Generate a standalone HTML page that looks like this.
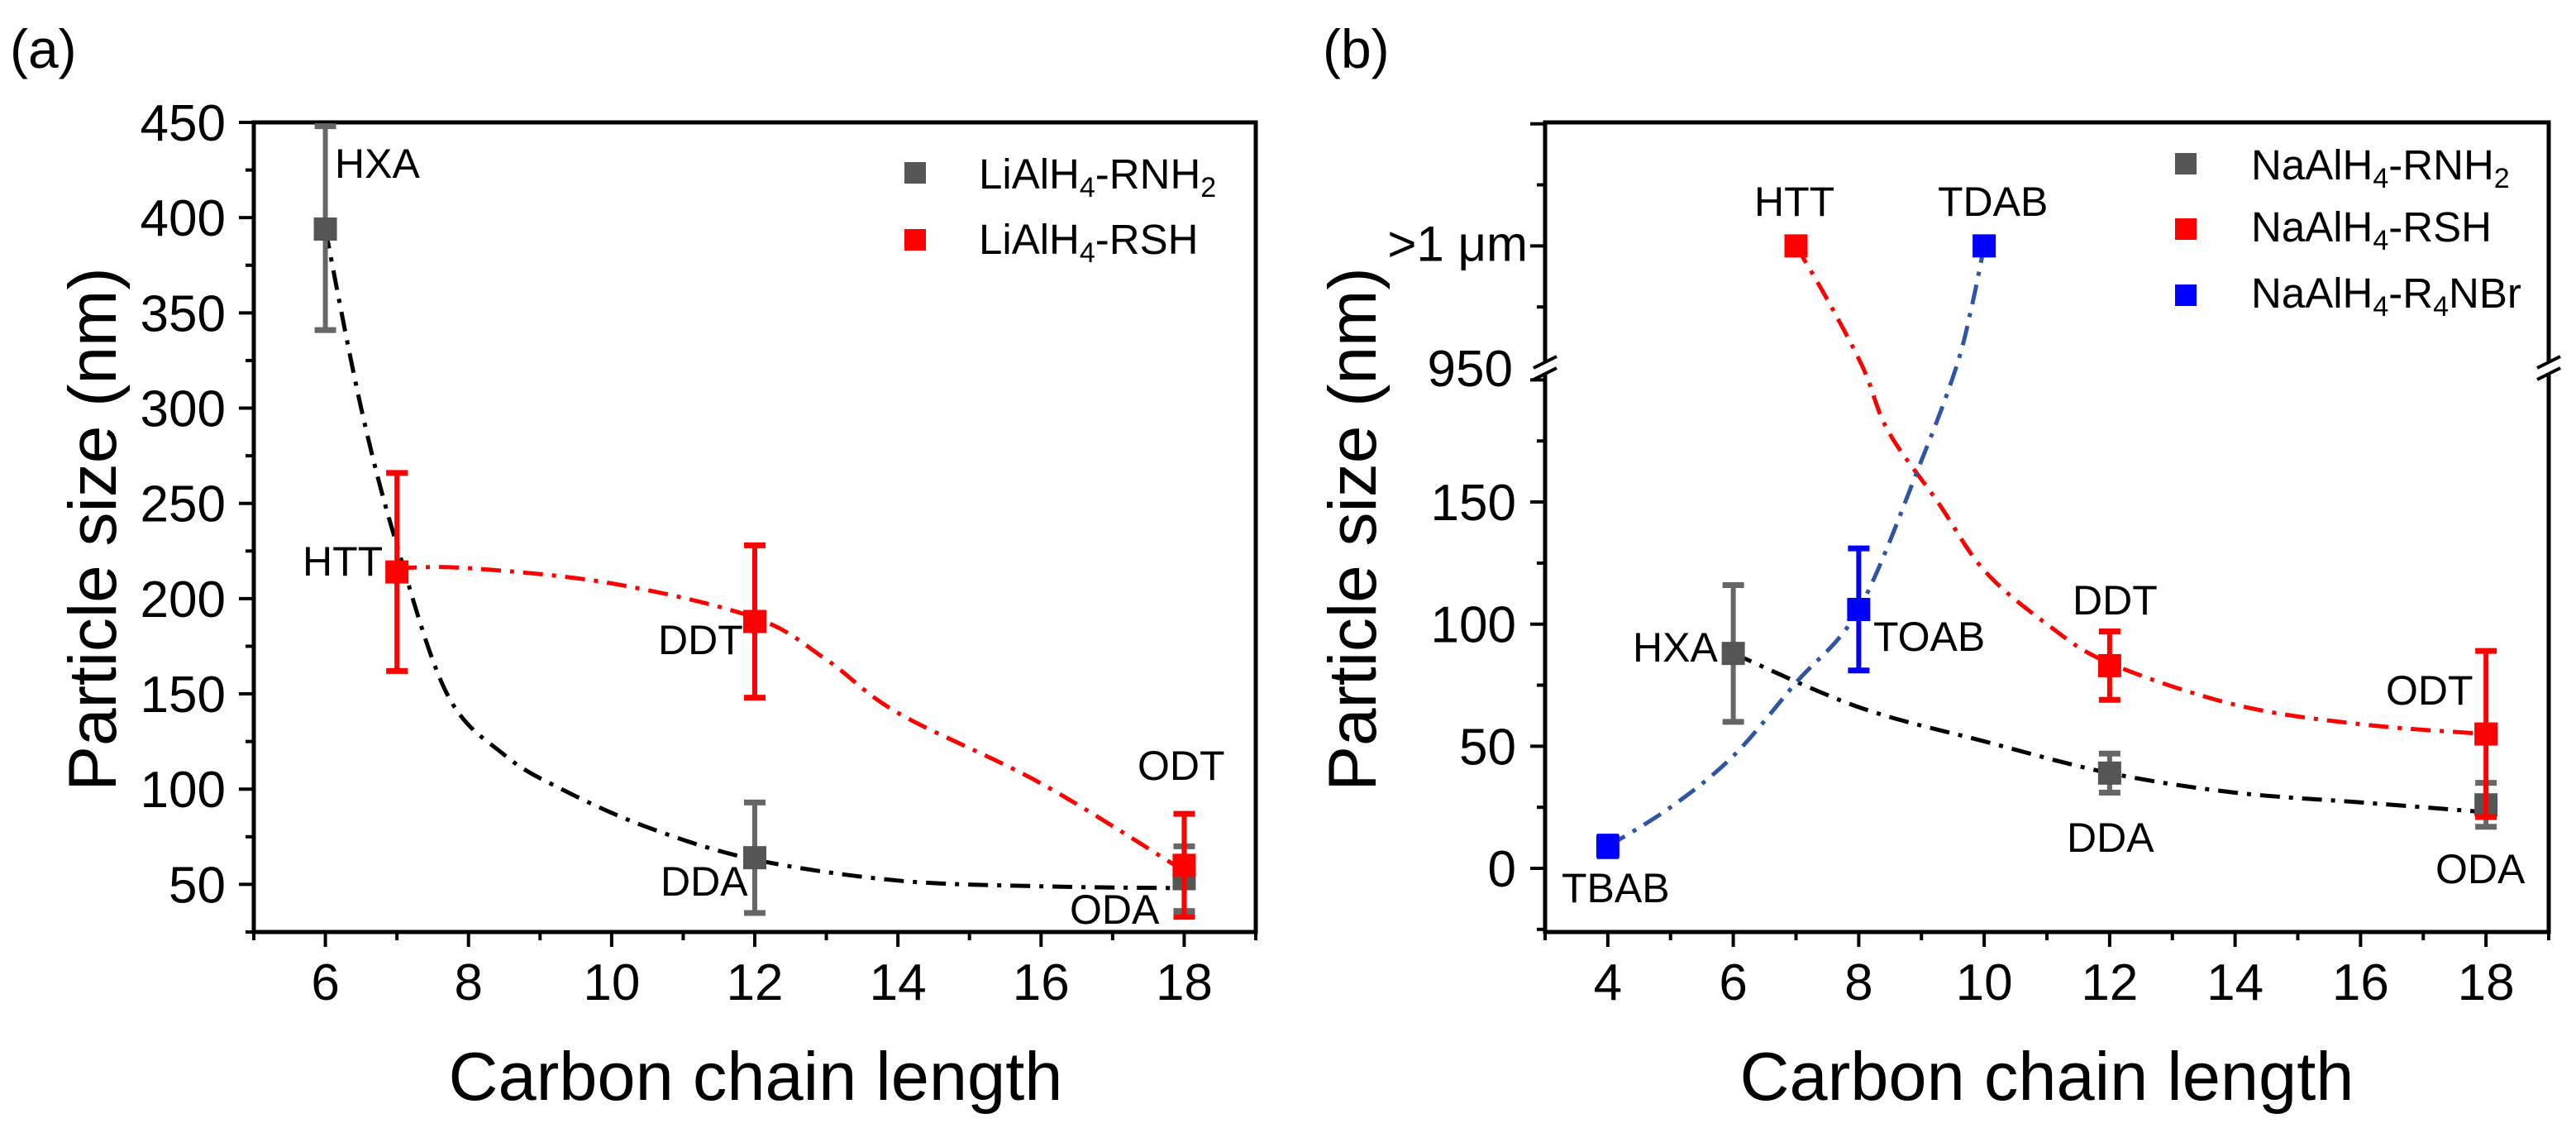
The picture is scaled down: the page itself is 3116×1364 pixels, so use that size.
<!DOCTYPE html>
<html><head><meta charset="utf-8">
<style>
html,body{margin:0;padding:0;background:#fff;}
svg{display:block;font-family:"Liberation Sans",Arial,sans-serif;}
</style></head>
<body>
<svg id="fig" width="3116" height="1364" viewBox="0 0 3116 1364" xmlns="http://www.w3.org/2000/svg">
<rect width="3116" height="1364" fill="#fff"/>
<text x="12" y="82" font-size="66">(a)</text>
<text x="1600" y="82" font-size="66">(b)</text>
<g id="pa"></g>
<g id="pb"></g>
</svg>
<script>
// ---------- Panel (a) data ----------
const aXTicks = [6, 8, 10, 12, 14, 16, 18];
const aYTicks = [50, 100, 150, 200, 250, 300, 350, 400, 450];
const aAmineX = [6, 12, 18];
const aAmineY = [394, 64, 53];
const aAmineLo = [341, 35, 36];
const aAmineHi = [448, 93, 70];
const aAmineNames = ["HXA", "DDA", "ODA"];
const aThiolX = [7, 12, 18];
const aThiolY = [214, 188, 60];
const aThiolLo = [162, 148, 33];
const aThiolHi = [266, 228, 87];
const aThiolNames = ["HTT", "DDT", "ODT"];
const aFitBlackX = [6, 6.5, 7, 7.7, 8.5, 9.3, 10.5, 12, 14, 16, 18];
const aFitBlackY = [394, 300, 228, 150, 118, 100, 80, 63, 52, 49, 48];
const aFitRedX = [7, 8, 10, 12, 13, 14, 16, 18];
const aFitRedY = [216, 216, 208, 190, 168, 140, 103, 57];

// ---------- Panel (b) data ----------
const bXTicks = [4, 6, 8, 10, 12, 14, 16, 18];
const bYTicksLow = [0, 50, 100, 150];
const bAmineX = [6, 12, 18];
const bAmineY = [88, 39, 26];
const bAmineLo = [60, 31, 17];
const bAmineHi = [116, 47, 35];
const bAmineNames = ["HXA", "DDA", "ODA"];
const bThiolX = [7, 12, 18];
const bThiolY = [1000, 83, 55];
const bThiolLo = [1000, 69, 21];
const bThiolHi = [1000, 97, 89];
const bThiolNames = ["HTT", "DDT", "ODT"];
const bAmmX = [4, 8, 10];
const bAmmY = [9, 106, 1000];
const bAmmLo = [5, 81, 1000];
const bAmmHi = [13, 131, 1000];
const bAmmNames = ["TBAB", "TOAB", "TDAB"];
const bFitBlackX = [6, 8, 10, 12, 14, 16, 18];
const bFitBlackY = [88, 66, 52, 39, 31, 27, 23];
const bFitRedX = [7, 7.5, 8.07, 8.47, 9.26, 10, 11, 12, 14, 16, 18];
const bFitRedY = [1000, 978, 950, 179, 150, 122, 100, 84, 67, 59, 55];
const bFitBlueX = [4, 5, 6, 7, 8, 9, 9.55, 9.8, 10];
const bFitBlueY = [9, 25, 46, 76, 106, 167, 950, 975, 1000];

const NS = "http://www.w3.org/2000/svg";
function mk(parent, tag, attrs, txt) {
  const e = document.createElementNS(NS, tag);
  for (const k in attrs) e.setAttribute(k, attrs[k]);
  if (txt !== undefined) e.textContent = txt;
  parent.appendChild(e);
  return e;
}
function smooth(pts) {
  let d = "M" + pts[0][0] + "," + pts[0][1];
  for (let i = 0; i < pts.length - 1; i++) {
    const p0 = pts[Math.max(0, i - 1)], p1 = pts[i], p2 = pts[i + 1], p3 = pts[Math.min(pts.length - 1, i + 2)];
    const c1x = p1[0] + (p2[0] - p0[0]) / 6, c1y = p1[1] + (p2[1] - p0[1]) / 6;
    const c2x = p2[0] - (p3[0] - p1[0]) / 6, c2y = p2[1] - (p3[1] - p1[1]) / 6;
    d += " C" + c1x + "," + c1y + " " + c2x + "," + c2y + " " + p2[0] + "," + p2[1];
  }
  return d;
}
const DASH = "24 11 5 11";
const GRAY = "#555", GRAYBAR = "#666", RED = "#ff0000", BLUE = "#0000ff";

// ================= Panel A =================
const ga = document.getElementById("pa");
const A = {l: 307, r: 1519, t: 148, b: 1127, x0: 5, x1: 19, y0: 25, y1: 450};
const ax = v => A.l + (v - A.x0) / (A.x1 - A.x0) * (A.r - A.l);
const ay = v => A.b - (v - A.y0) / (A.y1 - A.y0) * (A.b - A.t);

let el = mk(ga, "rect", {x: A.l, y: A.t, width: A.r - A.l, height: A.b - A.t, fill: "none", stroke: "#000", "stroke-width": 5});


for (let v = 5; v <= 19; v++) {
  const major = aXTicks.includes(v);
  el = mk(ga, "line", {x1: ax(v), x2: ax(v), y1: A.b, y2: A.b + (major ? 18 : 10), stroke: "#000", "stroke-width": 4});
  
  
}
aXTicks.forEach(v => {
  el = mk(ga, "text", {x: ax(v), y: 1209, "font-size": 62, "text-anchor": "middle"}, String(v));
  
  
});
for (let v = 25; v <= 450; v += 25) {
  const major = v % 50 === 0;
  el = mk(ga, "line", {x1: A.l, x2: A.l - (major ? 18 : 10), y1: ay(v), y2: ay(v), stroke: "#000", "stroke-width": 4});
  
  
}
aYTicks.forEach(v => {
  el = mk(ga, "text", {x: 273, y: ay(v) + 22, "font-size": 62, "text-anchor": "end"}, String(v));
  
  
});
el = mk(ga, "text", {x: 914, y: 1330, "font-size": 83, "text-anchor": "middle"}, "Carbon chain length");


el = mk(ga, "text", {transform: "translate(140,640) rotate(-90)", "font-size": 82, "text-anchor": "middle"}, "Particle size (nm)");



el = mk(ga, "path", {d: smooth(aFitBlackX.map((x, i) => [ax(x), ay(aFitBlackY[i])])), fill: "none", stroke: "#000", "stroke-width": 5, "stroke-dasharray": DASH});


el = mk(ga, "path", {d: smooth(aFitRedX.map((x, i) => [ax(x), ay(aFitRedY[i])])), fill: "none", stroke: RED, "stroke-width": 5, "stroke-dasharray": DASH});



function errPoints(g, xs, ys, los, his, xf, yf, col, barCol, nm) {
  xs.forEach((x, i) => {
    if (his[i] !== los[i]) {
      let e = mk(g, "line", {x1: xf(x), x2: xf(x), y1: yf(his[i]), y2: yf(los[i]), stroke: barCol, "stroke-width": 6});
      
      
      [his[i], los[i]].forEach(v => {
        let c = mk(g, "line", {x1: xf(x) - 13, x2: xf(x) + 13, y1: yf(v), y2: yf(v), stroke: barCol, "stroke-width": 7});
        
        
      });
    }
    let m = mk(g, "rect", {x: xf(x) - 14, y: yf(ys[i]) - 14, width: 28, height: 28, fill: col});
    
    
  });
}
errPoints(ga, aAmineX, aAmineY, aAmineLo, aAmineHi, ax, ay, GRAY, GRAYBAR, 'amine-a');
errPoints(ga, aThiolX, aThiolY, aThiolLo, aThiolHi, ax, ay, RED, RED, 'thiol-a');

const aLabelPos = [[405, 215, "start"], [366, 696, "start"], [796, 791, "start"], [799, 1083, "start"], [1294, 1117, "start"], [1376, 943, "start"]];
const aLabelTxt = [aAmineNames[0], aThiolNames[0], aThiolNames[1], aAmineNames[1], aAmineNames[2], aThiolNames[2]];
aLabelTxt.forEach((t, i) => {
  el = mk(ga, "text", {x: aLabelPos[i][0], y: aLabelPos[i][1], "font-size": 50}, t);
  
  
});
el = mk(ga, "rect", {x: 1094, y: 196, width: 26, height: 26, fill: GRAY});


el = mk(ga, "text", {x: 1184, y: 228, "font-size": 51});
el.innerHTML = 'LiAlH<tspan font-size="34" dy="10">4</tspan><tspan dy="-10">-RNH</tspan><tspan font-size="34" dy="10">2</tspan>';


el = mk(ga, "rect", {x: 1094, y: 277, width: 26, height: 26, fill: RED});


el = mk(ga, "text", {x: 1184, y: 307, "font-size": 51});
el.innerHTML = 'LiAlH<tspan font-size="34" dy="10">4</tspan><tspan dy="-10">-RSH</tspan>';



// ================= Panel B =================
const gb = document.getElementById("pb");
const B = {l: 1869, r: 3083, t: 148, b: 1127, x0: 3, x1: 19, brk: 445, k: 2.953, zero: 1050};
const bx = v => B.l + (v - B.x0) / (B.x1 - B.x0) * (B.r - B.l);
const by = v => v >= 950 ? B.brk - (v - 950) * B.k : B.zero - v * B.k;

el = mk(gb, "rect", {x: B.l, y: B.t, width: B.r - B.l, height: B.b - B.t, fill: "none", stroke: "#000", "stroke-width": 5});


[B.l, B.r].forEach(xx => {
  el = mk(gb, "rect", {x: xx - 14, y: B.brk - 6, width: 28, height: 12, fill: "#fff"});
  
  
  [-7, 7].forEach(o => {
    el = mk(gb, "line", {x1: xx - 14, y1: B.brk + o + 7, x2: xx + 14, y2: B.brk + o - 7, stroke: "#000", "stroke-width": 4});
    
    
  });
});
for (let v = 3; v <= 19; v++) {
  const major = bXTicks.includes(v);
  el = mk(gb, "line", {x1: bx(v), x2: bx(v), y1: B.b, y2: B.b + (major ? 18 : 10), stroke: "#000", "stroke-width": 4});
  
  
}
bXTicks.forEach(v => {
  el = mk(gb, "text", {x: bx(v), y: 1209, "font-size": 62, "text-anchor": "middle"}, String(v));
  
  
});
for (let v = -25; v <= 200; v += 25) {
  const major = v % 50 === 0;
  el = mk(gb, "line", {x1: B.l, x2: B.l - (major ? 18 : 10), y1: by(v), y2: by(v), stroke: "#000", "stroke-width": 4});
  
  
}
for (let v = 975; v <= 1050; v += 25) {
  const major = v % 50 === 0;
  el = mk(gb, "line", {x1: B.l, x2: B.l - (major ? 18 : 10), y1: by(v), y2: by(v), stroke: "#000", "stroke-width": 4});
  
  
}
bYTicksLow.forEach(v => {
  el = mk(gb, "text", {x: 1834, y: by(v) + 22, "font-size": 62, "text-anchor": "end"}, String(v));
  
  
});
el = mk(gb, "text", {x: 1830, y: by(950) + 22, "font-size": 62, "text-anchor": "end"}, "950");


el = mk(gb, "text", {x: 1848, y: by(1000) + 18, "font-size": 60, "text-anchor": "end"}, ">1 μm");


el = mk(gb, "text", {x: 2476, y: 1330, "font-size": 83, "text-anchor": "middle"}, "Carbon chain length");


el = mk(gb, "text", {transform: "translate(1664,640) rotate(-90)", "font-size": 82, "text-anchor": "middle"}, "Particle size (nm)");



el = mk(gb, "path", {d: smooth(bFitBlackX.map((x, i) => [bx(x), by(bFitBlackY[i])])), fill: "none", stroke: "#000", "stroke-width": 5, "stroke-dasharray": DASH});


el = mk(gb, "path", {d: smooth(bFitRedX.map((x, i) => [bx(x), by(bFitRedY[i])])), fill: "none", stroke: RED, "stroke-width": 5, "stroke-dasharray": DASH});


el = mk(gb, "path", {d: smooth(bFitBlueX.map((x, i) => [bx(x), by(bFitBlueY[i])])), fill: "none", stroke: "#2f55a4", "stroke-width": 5, "stroke-dasharray": DASH});



errPoints(gb, bAmineX, bAmineY, bAmineLo, bAmineHi, bx, by, GRAY, GRAYBAR, 'amine-b');
errPoints(gb, bThiolX, bThiolY, bThiolLo, bThiolHi, bx, by, RED, RED, 'thiol-b');
errPoints(gb, bAmmX, bAmmY, bAmmLo, bAmmHi, bx, by, BLUE, BLUE, 'ammonium-b');

const bLabelTxt = [bThiolNames[0], bAmmNames[2], bAmineNames[0], bAmmNames[1], bThiolNames[1], bThiolNames[2], bAmineNames[1], bAmineNames[2], bAmmNames[0]];
const bLabelPos = [[2122, 261], [2344, 261], [1975, 800], [2266, 787], [2507, 743], [2886, 852], [2500, 1030], [2946, 1068], [1889, 1091]];
bLabelTxt.forEach((t, i) => {
  el = mk(gb, "text", {x: bLabelPos[i][0], y: bLabelPos[i][1], "font-size": 50}, t);
  
  
});
el = mk(gb, "rect", {x: 2631, y: 185, width: 26, height: 26, fill: GRAY});


el = mk(gb, "text", {x: 2723, y: 217, "font-size": 51});
el.innerHTML = 'NaAlH<tspan font-size="34" dy="10">4</tspan><tspan dy="-10">-RNH</tspan><tspan font-size="34" dy="10">2</tspan>';


el = mk(gb, "rect", {x: 2631, y: 264, width: 26, height: 26, fill: RED});


el = mk(gb, "text", {x: 2723, y: 292, "font-size": 51});
el.innerHTML = 'NaAlH<tspan font-size="34" dy="10">4</tspan><tspan dy="-10">-RSH</tspan>';


el = mk(gb, "rect", {x: 2631, y: 344, width: 26, height: 26, fill: BLUE});


el = mk(gb, "text", {x: 2723, y: 372, "font-size": 51});
el.innerHTML = 'NaAlH<tspan font-size="34" dy="10">4</tspan><tspan dy="-10">-R</tspan><tspan font-size="34" dy="10">4</tspan><tspan dy="-10">NBr</tspan>';


</script>
</body></html>
